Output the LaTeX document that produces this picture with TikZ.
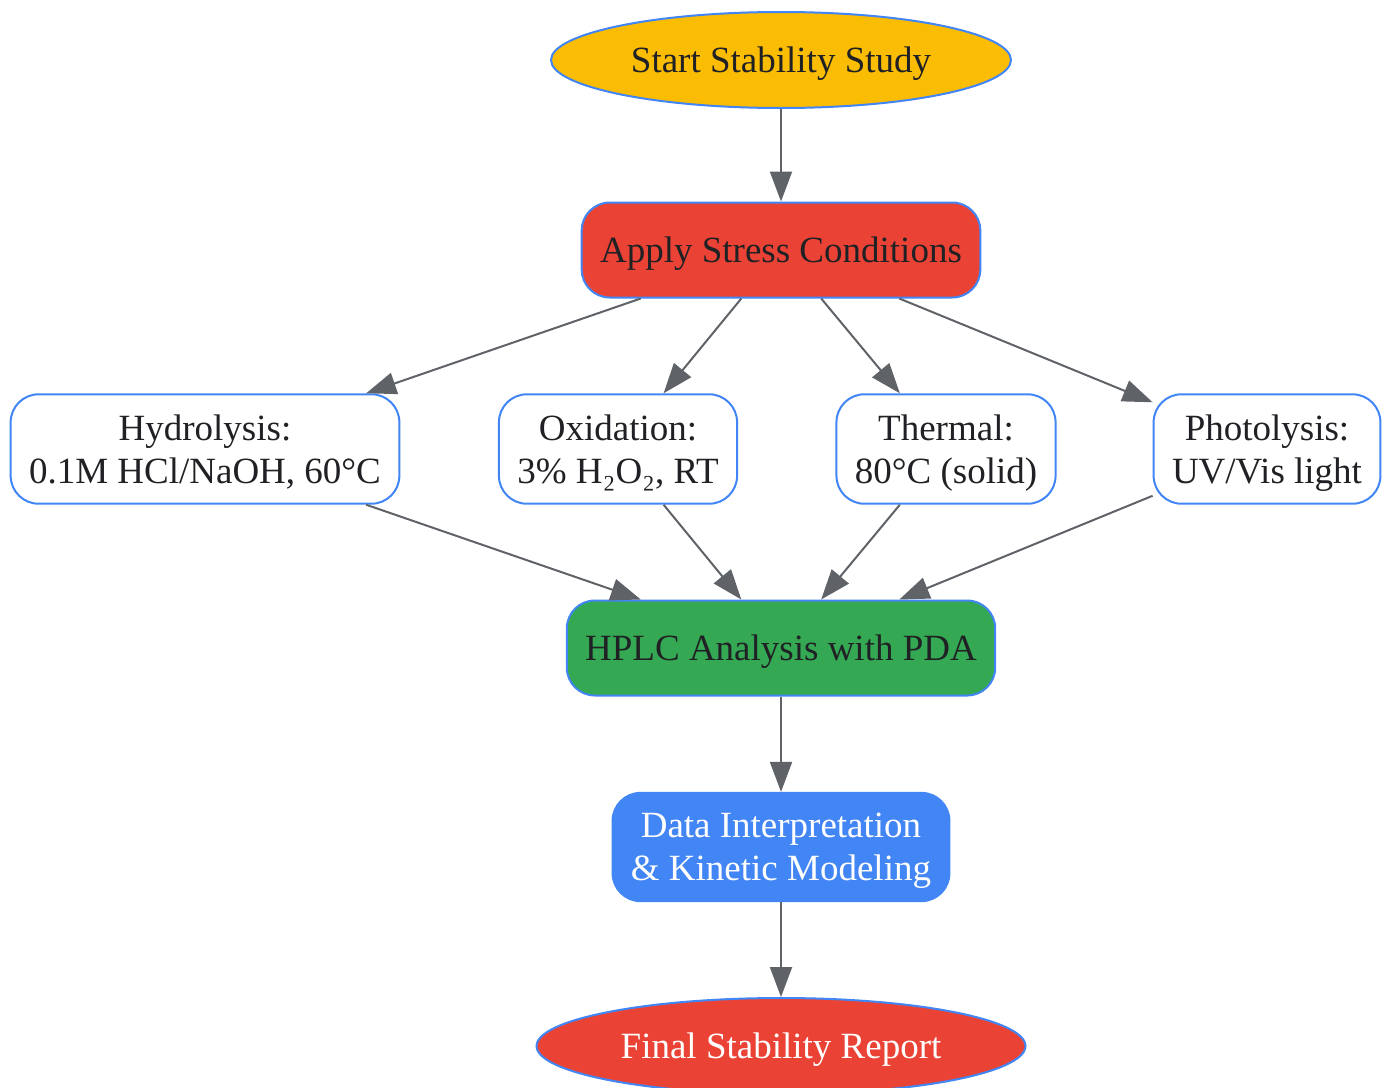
\documentclass[tikz,border=0pt]{standalone}
\usepackage{fontspec}
\setmainfont{Liberation Serif}
\usepackage{xcolor}
\usepackage{tikz}
\usetikzlibrary{positioning,shapes,arrows.meta}

\definecolor{gyellow}{HTML}{FBBC04}
\definecolor{gred}{HTML}{EA4335}
\definecolor{ggreen}{HTML}{34A853}
\definecolor{gblue}{HTML}{4285F4}
\definecolor{ggray}{HTML}{5F6368}
\definecolor{gtext}{HTML}{202124}

\tikzset{
  base/.style={draw=gblue, line width=1pt, text=gtext, align=center,
    font=\fontsize{18.5}{21.5}\selectfont, text depth=0pt},
  oval/.style={base, ellipse, inner sep=0pt, minimum height=48pt},
  box/.style={base, rectangle, rounded corners=14pt, inner xsep=9.2pt,
    inner ysep=10.2pt, minimum height=47.5pt},
  flow/.style={draw=ggray, line width=1pt, -{Triangle[length=15pt,width=11pt]}},
}

\begin{document}
\begin{tikzpicture}[x=0.5pt,y=-0.5pt]
           \useasboundingbox (0,0) rectangle (1385,1087);
           \node[oval, fill=gyellow, minimum width=230pt] (start) at (781,60) {Start Stability Study};
           \node[box, fill=gred] (stress) at (781,250) {Apply Stress Conditions};
           \node[box, fill=white] (hydro) at (205,449) {Hydrolysis:\\0.1M HCl/NaOH, 60°C};
           \node[box, fill=white] (oxid) at (618,449) {Oxidation:\\3\% H₂O₂, RT};
           \node[box, fill=white] (therm) at (946,449) {Thermal:\\80°C (solid)};
           \node[box, fill=white] (photo) at (1267,449) {Photolysis:\\UV/Vis light};
           \node[box, fill=ggreen] (hplc) at (781,648) {HPLC Analysis with PDA};
           \node[box, fill=gblue, text=white] (data) at (781,847) {Data Interpretation\\\& Kinetic Modeling};
           \node[oval, fill=gred, text=white, minimum width=244.5pt] (report) at (781,1046) {Final Stability Report};
           \draw[flow] (start) -- (stress);
           \foreach \n in {hydro,oxid,therm,photo} {
             \draw[flow] (stress) -- (\n);
             \draw[flow] (\n) -- (hplc);
           }
           \draw[flow] (hplc) -- (data);
           \draw[flow] (data) -- (report);
         \end{tikzpicture}
\end{document}
